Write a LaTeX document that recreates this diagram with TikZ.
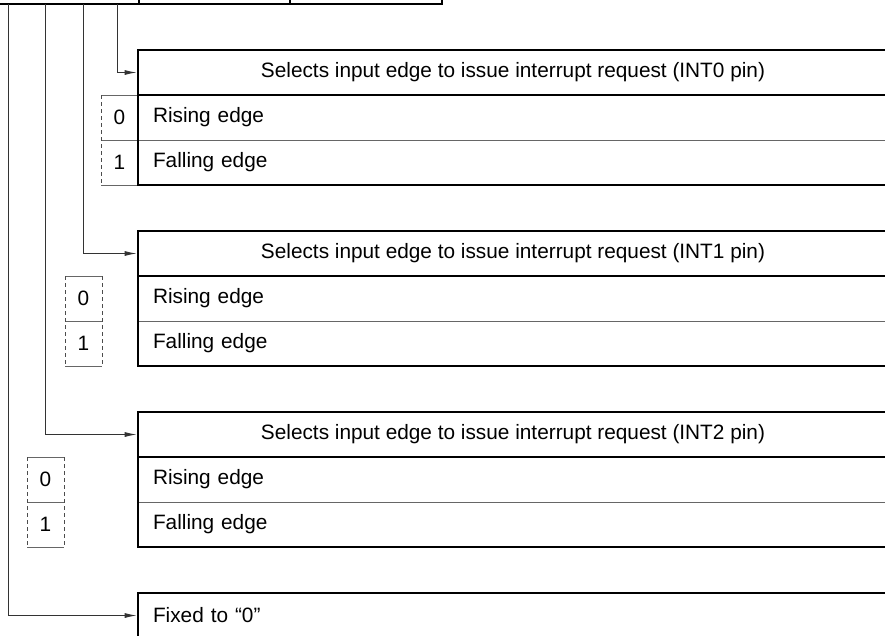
\documentclass[tikz,border=0pt]{standalone}
\usepackage{fontspec}
\setmainfont{Liberation Sans}
\usetikzlibrary{arrows.meta,positioning}

\begin{document}
\begin{tikzpicture}[
    x=1pt,y=-1pt,
    font=\fontsize{20.8}{25}\selectfont,
    hdr/.style={draw,line width=2.6pt,minimum width=750pt,minimum height=45pt,inner sep=0pt,outer sep=0pt,anchor=north west},
    row/.style={minimum height=45pt,text width=720pt,inner xsep=15pt,inner ysep=0pt,outer sep=0pt,anchor=north west,align=left},
    bit/.style={minimum width=37pt,minimum height=45pt,inner sep=0pt,outer sep=0pt},
    frame/.style={line width=2.6pt,line cap=rect},
    sepline/.style={line width=1pt,black!60},
    dashside/.style={line width=1pt,black!70,dash pattern=on 4pt off 3pt},
    wire/.style={-{Latex[length=12pt,width=5pt]},line width=1pt,black!80,shorten >=1.3pt}
  ]
    \useasboundingbox (0,0) rectangle (885,635);
    \clip (0,0) rectangle (885,635);
    % register (lower edge only)
    \draw[frame] (-10,4) -- (442,4) -- (442,-20);
    \foreach \x in {139,290} {\draw[line width=1.2pt] (\x,4) -- (\x,-20);}
    \coordinate (b0) at (117,4); \coordinate (b1) at (83,4);
    \coordinate (b2) at (45,4);  \coordinate (b3) at (8,4);
    % edge select fields
    \foreach \g/\t/\s in {0/50/0pt,1/231/36pt,2/412/74pt} {
      \node[hdr] (hdr\g) at (138,\t) {Selects input edge to issue interrupt request (INT\g\ pin)};
      \node[row,below=0pt of hdr\g] (rise\g) {Rising edge};
      \node[row,below=0pt of rise\g] (fall\g) {Falling edge};
      \node[bit,anchor=east] (zero\g) at ([xshift=-\s]rise\g.west) {0};
      \node[bit,anchor=east] (one\g) at ([xshift=-\s]fall\g.west) {1};
      \draw[sepline] (zero\g.north west) -- (zero\g.north east)
        (zero\g.south west) -- (zero\g.south east) (one\g.south west) -- (one\g.south east);
      \draw[dashside] (zero\g.north west) -- (one\g.south west);
      \draw[dashside] (zero\g.north east) -- (one\g.south east);
      \draw[sepline] (rise\g.south west) -- (rise\g.south east);
      \draw[frame] (hdr\g.south west) |- (fall\g.south east);
      \draw[wire] (b\g) |- (hdr\g.west);
    }
    \node[row] (fixed) at (138,593) {Fixed to “0”};
    \draw[frame] (fixed.south west) |- (fixed.north east);
    \draw[wire] (b3) |- (fixed.west);
\end{tikzpicture}
\end{document}
